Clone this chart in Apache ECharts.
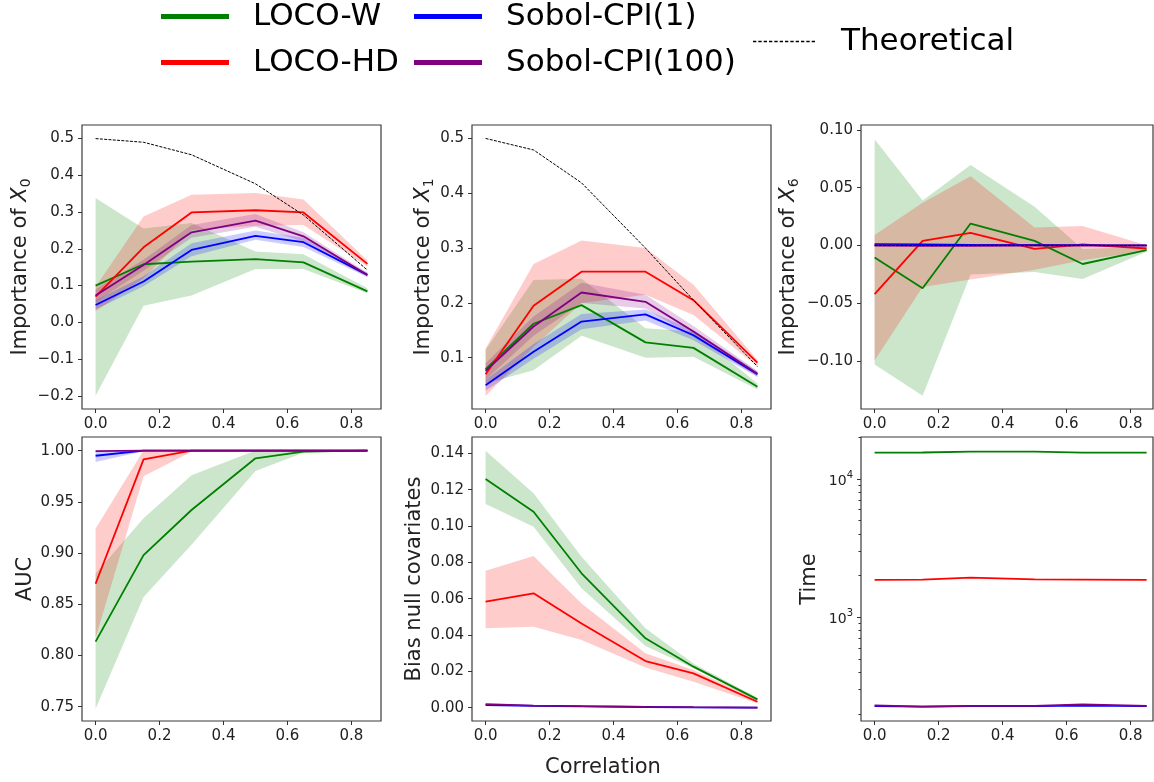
<!DOCTYPE html>
<html><head><meta charset="utf-8">
<script src="https://cdn.jsdelivr.net/npm/echarts@6.0.0/dist/echarts.min.js"></script>
<style>html,body{margin:0;padding:0;background:#fff;}#chart{width:1154px;height:782px;}</style>
</head><body><div id="chart"></div>
<script>
// ---------- data ----------
const corr = [0, 0.15, 0.3, 0.5, 0.65, 0.85];
const xTicks = [0, 0.2, 0.4, 0.6, 0.8];

// Importance of X0
const x0_theory   = [0.500, 0.490, 0.456, 0.377, 0.292, 0.142];
const x0_locoW    = [0.100, 0.158, 0.165, 0.172, 0.163, 0.084];
const x0_locoW_lo = [-0.200, 0.045, 0.073, 0.145, 0.145, 0.079];
const x0_locoW_hi = [0.338, 0.255, 0.270, 0.193, 0.185, 0.093];
const x0_locoHD    = [0.070, 0.204, 0.299, 0.305, 0.299, 0.159];
const x0_locoHD_lo = [0.030, 0.120, 0.251, 0.263, 0.265, 0.152];
const x0_locoHD_hi = [0.097, 0.288, 0.347, 0.352, 0.334, 0.168];
const x0_sobol1    = [0.047, 0.111, 0.197, 0.235, 0.218, 0.129];
const x0_sobol1_lo = [0.035, 0.098, 0.180, 0.225, 0.205, 0.123];
const x0_sobol1_hi = [0.060, 0.125, 0.215, 0.250, 0.230, 0.135];
const x0_sobol100    = [0.073, 0.156, 0.245, 0.277, 0.234, 0.129];
const x0_sobol100_lo = [0.055, 0.140, 0.230, 0.260, 0.220, 0.123];
const x0_sobol100_hi = [0.090, 0.170, 0.265, 0.295, 0.245, 0.135];
const x0_yTicks = [-0.2, -0.1, 0.0, 0.1, 0.2, 0.3, 0.4, 0.5];

// Importance of X1
const x1_theory   = [0.500, 0.479, 0.419, 0.300, 0.205, 0.084];
const x1_locoW    = [0.079, 0.162, 0.196, 0.128, 0.118, 0.047];
const x1_locoW_lo = [0.053, 0.077, 0.140, 0.100, 0.102, 0.042];
const x1_locoW_hi = [0.114, 0.242, 0.244, 0.154, 0.148, 0.053];
const x1_locoHD    = [0.070, 0.195, 0.257, 0.257, 0.205, 0.091];
const x1_locoHD_lo = [0.030, 0.120, 0.200, 0.215, 0.178, 0.084];
const x1_locoHD_hi = [0.117, 0.271, 0.314, 0.300, 0.233, 0.096];
const x1_sobol1    = [0.050, 0.111, 0.166, 0.179, 0.141, 0.070];
const x1_sobol1_lo = [0.040, 0.098, 0.152, 0.168, 0.132, 0.065];
const x1_sobol1_hi = [0.060, 0.125, 0.180, 0.188, 0.150, 0.075];
const x1_sobol100    = [0.076, 0.157, 0.219, 0.202, 0.148, 0.071];
const x1_sobol100_lo = [0.060, 0.140, 0.200, 0.190, 0.138, 0.066];
const x1_sobol100_hi = [0.090, 0.175, 0.237, 0.215, 0.158, 0.076];
const x1_yTicks = [0.1, 0.2, 0.3, 0.4, 0.5];

// Importance of X6
const x6_theory   = [0, 0, 0, 0, 0, 0];
const x6_locoW    = [-0.0104, -0.037, 0.019, 0.004, -0.016, -0.004];
const x6_locoW_lo = [-0.103, -0.130, -0.025, -0.023, -0.029, -0.0055];
const x6_locoW_hi = [0.092, 0.039, 0.0697, 0.0335, -0.003, -0.001];
const x6_locoHD    = [-0.042, 0.004, 0.011, -0.003, 0.001, -0.0026];
const x6_locoHD_lo = [-0.0995, -0.036, -0.0295, -0.021, -0.0127, -0.0046];
const x6_locoHD_hi = [0.009, 0.037, 0.060, 0.0156, 0.0168, 0.0003];
const x6_sobol1    = [0.0012, 0.0010, 0.0006, 0.0005, 0.0004, 0.0002];
const x6_sobol100  = [0.0000, -0.0003, -0.0002, 0.0000, -0.0001, 0.0000];
const x6_yTicks = [-0.10, -0.05, 0.00, 0.05, 0.10];

// AUC
const auc_locoW    = [0.8135, 0.898, 0.942, 0.9925, 0.999, 1.0];
const auc_locoW_lo = [0.748, 0.857, 0.908, 0.980, 0.998, 1.0];
const auc_locoW_hi = [0.880, 0.934, 0.976, 1.0, 1.0, 1.0];
const auc_locoHD    = [0.870, 0.9915, 1.0, 1.0, 1.0, 1.0];
const auc_locoHD_lo = [0.817, 0.975, 0.999, 1.0, 1.0, 1.0];
const auc_locoHD_hi = [0.924, 1.0, 1.0, 1.0, 1.0, 1.0];
const auc_sobol1    = [0.995, 1.0, 1.0, 1.0, 1.0, 1.0];
const auc_sobol1_lo = [0.989, 0.9995, 1.0, 1.0, 1.0, 1.0];
const auc_sobol1_hi = [0.9995, 1.0, 1.0, 1.0, 1.0, 1.0];
const auc_sobol100  = [0.9995, 1.0, 1.0, 1.0, 1.0, 1.0];
const auc_yTicks = [0.75, 0.80, 0.85, 0.90, 0.95, 1.00];

// Bias null covariates
const bias_locoW    = [0.1259, 0.1079, 0.0740, 0.0382, 0.0226, 0.0046];
const bias_locoW_lo = [0.1121, 0.0996, 0.0657, 0.0340, 0.0217, 0.0039];
const bias_locoW_hi = [0.1415, 0.1180, 0.0831, 0.0437, 0.0244, 0.0055];
const bias_locoHD    = [0.0584, 0.0630, 0.0464, 0.0257, 0.0189, 0.0033];
const bias_locoHD_lo = [0.0437, 0.0446, 0.0373, 0.0222, 0.0143, 0.0024];
const bias_locoHD_hi = [0.0754, 0.0835, 0.0574, 0.0300, 0.0208, 0.0046];
const bias_sobol1   = [0.0015, 0.0010, 0.0007, 0.0004, 0.0002, 0.0001];
const bias_sobol100 = [0.0020, 0.0012, 0.0009, 0.0005, 0.0003, 0.0001];
const bias_yTicks = [0.00, 0.02, 0.04, 0.06, 0.08, 0.10, 0.12, 0.14];

// Time
const time_locoW    = [15500, 15550, 15750, 15750, 15500, 15500];
const time_locoHD   = [1862, 1870, 1935, 1880, 1875, 1862];
const time_sobol1   = [228, 226, 228, 228, 230, 228];
const time_sobol100 = [231, 226, 229, 229, 235, 229];
const time_majorTicks = [1000, 10000];
const time_minorTicks = [200,300,400,500,600,700,800,900,2000,3000,4000,5000,6000,7000,8000,9000,20000];

const legendNames = ['LOCO-W', 'LOCO-HD', 'Sobol-CPI(1)', 'Sobol-CPI(100)', 'Theoretical'];

// ---------- styles ----------
const FONT = 'DejaVu Sans';
const COLORS = {'LOCO-W':'#008000','LOCO-HD':'#ff0000','Sobol-CPI(1)':'#0000ff','Sobol-CPI(100)':'#800080'};
const BANDS = {'LOCO-W':'rgba(0,128,0,0.2)','LOCO-HD':'rgba(255,0,0,0.2)','Sobol-CPI(1)':'rgba(0,0,255,0.2)','Sobol-CPI(100)':'rgba(128,0,128,0.2)'};
const TXT = '#222';
const minus = s => s.replace('-', '\u2212');

const gridPos = [
  {left:82,  top:125, width:299, height:284},
  {left:472, top:125, width:299, height:284},
  {left:861, top:125, width:292, height:284},
  {left:82,  top:437, width:299, height:284},
  {left:472, top:437, width:299, height:284},
  {left:861, top:437, width:292, height:284}
];

const nameRich = {
  i:{fontSize:21, fontStyle:'italic', fontFamily:FONT, color:TXT, lineHeight:26},
  s:{fontSize:14, fontFamily:FONT, color:TXT, lineHeight:14, verticalAlign:'bottom'}
};

const panels = [
  {name:'Importance of {i|X}{s|0}', rich:true, min:-0.236, max:0.537, ticks:x0_yTicks, dec:1, gap:48.7,
   lines:{'LOCO-W':x0_locoW,'LOCO-HD':x0_locoHD,'Sobol-CPI(1)':x0_sobol1,'Sobol-CPI(100)':x0_sobol100},
   bands:{'LOCO-W':[x0_locoW_lo,x0_locoW_hi],'LOCO-HD':[x0_locoHD_lo,x0_locoHD_hi],'Sobol-CPI(1)':[x0_sobol1_lo,x0_sobol1_hi],'Sobol-CPI(100)':[x0_sobol100_lo,x0_sobol100_hi]},
   theory:x0_theory},
  {name:'Importance of {i|X}{s|1}', rich:true, min:0.0065, max:0.5245, ticks:x1_yTicks, dec:1, gap:30.2,
   lines:{'LOCO-W':x1_locoW,'LOCO-HD':x1_locoHD,'Sobol-CPI(1)':x1_sobol1,'Sobol-CPI(100)':x1_sobol100},
   bands:{'LOCO-W':[x1_locoW_lo,x1_locoW_hi],'LOCO-HD':[x1_locoHD_lo,x1_locoHD_hi],'Sobol-CPI(1)':[x1_sobol1_lo,x1_sobol1_hi],'Sobol-CPI(100)':[x1_sobol100_lo,x1_sobol100_hi]},
   theory:x1_theory},
  {name:'Importance of {i|X}{s|6}', rich:true, min:-0.1415, max:0.1043, ticks:x6_yTicks, dec:2, gap:59.2,
   lines:{'LOCO-W':x6_locoW,'LOCO-HD':x6_locoHD,'Sobol-CPI(1)':x6_sobol1,'Sobol-CPI(100)':x6_sobol100},
   bands:{'LOCO-W':[x6_locoW_lo,x6_locoW_hi],'LOCO-HD':[x6_locoHD_lo,x6_locoHD_hi]},
   theory:x6_theory},
  {name:'AUC', min:0.736, max:1.0133, ticks:auc_yTicks, dec:2, gap:46.2,
   lines:{'LOCO-W':auc_locoW,'LOCO-HD':auc_locoHD,'Sobol-CPI(1)':auc_sobol1,'Sobol-CPI(100)':auc_sobol100},
   bands:{'LOCO-W':[auc_locoW_lo,auc_locoW_hi],'LOCO-HD':[auc_locoHD_lo,auc_locoHD_hi],'Sobol-CPI(1)':[auc_sobol1_lo,auc_sobol1_hi]}},
  {name:'Bias null covariates', min:-0.0073, max:0.149, ticks:bias_yTicks, dec:2, gap:47.2,
   lines:{'LOCO-W':bias_locoW,'LOCO-HD':bias_locoHD,'Sobol-CPI(1)':bias_sobol1,'Sobol-CPI(100)':bias_sobol100},
   bands:{'LOCO-W':[bias_locoW_lo,bias_locoW_hi],'LOCO-HD':[bias_locoHD_lo,bias_locoHD_hi]}},
  {name:'Time', log:true, min:178, max:20120, ticks:time_majorTicks, gap:41.2,
   lines:{'LOCO-W':time_locoW,'LOCO-HD':time_locoHD,'Sobol-CPI(1)':time_sobol1,'Sobol-CPI(100)':time_sobol100},
   bands:{}}
];

// ---------- build option ----------
const grid = gridPos.map(g => Object.assign({show:true, borderColor:'#3a3a3a', borderWidth:1.2, backgroundColor:'transparent', containLabel:false, outerBoundsMode:'none'}, g));

const xAxis = gridPos.map((g, i) => ({
  type:'value', gridIndex:i, position:'bottom', min:-0.0425, max: (i % 3 === 2) ? 0.8700 : 0.8925,
  axisLine:{show:false, onZero:false}, splitLine:{show:false},
  axisTick:{show:true, customValues:xTicks, length:4, lineStyle:{color:'#333', width:1}},
  axisLabel:{customValues:xTicks, formatter:v => v.toFixed(1), margin:8, fontSize:15, fontFamily:FONT, color:TXT}
}));

const yAxis = panels.map((p, i) => {
  const ax = {
    gridIndex:i, position:'left', min:p.min, max:p.max, name:p.name, nameLocation:'middle', nameGap:p.gap, nameRotate:90,
    nameTextStyle:{fontSize:21, fontFamily:FONT, color:TXT, lineHeight: p.rich ? 26 : 21},
    axisLine:{show:false, onZero:false}, splitLine:{show:false},
    axisTick:{show:true, customValues:p.ticks, length:4, lineStyle:{color:'#333', width:1}},
    axisLabel:{customValues:p.ticks, margin:8, fontSize:15, fontFamily:FONT, color:TXT}
  };
  if (p.rich) ax.nameTextStyle.rich = nameRich;
  if (p.log) {
    ax.type = 'log'; ax.logBase = 10;
    ax.axisLabel.formatter = v => '{b|10}{p|' + Math.round(Math.log10(v)) + '}';
    ax.axisLabel.rich = {
      b:{fontSize:14, fontFamily:FONT, color:TXT, lineHeight:18, verticalAlign:'bottom'},
      p:{fontSize:10, fontFamily:FONT, color:TXT, lineHeight:10, verticalAlign:'top'}
    };
  } else {
    ax.type = 'value';
    ax.axisLabel.formatter = v => minus(v.toFixed(p.dec));
  }
  return ax;
});
// minor ticks of the log axis
yAxis.push({
  type:'log', logBase:10, gridIndex:5, position:'left', offset:0, min:178, max:20120,
  axisLine:{show:false, onZero:false}, splitLine:{show:false}, axisLabel:{show:false},
  axisTick:{show:true, customValues:time_minorTicks, length:2.5, lineStyle:{color:'#333', width:1}}
});

const series = [];
// lines first (legend looks up first series by name)
panels.forEach((p, gi) => {
  ['LOCO-W','LOCO-HD','Sobol-CPI(1)','Sobol-CPI(100)'].forEach(n => {
    const ys = p.lines[n];
    series.push({
      type:'line', name:n, xAxisIndex:gi, yAxisIndex:gi, symbol:'none', z:3, silent:true,
      data: corr.map((x, k) => [x, ys[k]]),
      lineStyle:{color:COLORS[n], width:1.8}, itemStyle:{color:COLORS[n]}
    });
  });
  if (p.theory) {
    series.push({
      type:'line', name:'Theoretical', xAxisIndex:gi, yAxisIndex:gi, symbol:'none', z:4, silent:true,
      data: corr.map((x, k) => [x, p.theory[k]]),
      lineStyle:{color:'#000', width:1, type:[3, 1.3]}, itemStyle:{color:'#000'}
    });
  }
});
panels.forEach((p, gi) => {
  Object.keys(p.bands).forEach(n => {
    const lo = p.bands[n][0], hi = p.bands[n][1];
    const data = corr.map((x, k) => [x, lo[k], hi[k]]);
    series.push({
      type:'custom', name:n, coordinateSystem:'cartesian2d', xAxisIndex:gi, yAxisIndex:gi, z:2, silent:true,
      data: data, encode:{x:0, y:[1, 2]},
      renderItem: function (params, api) {
        if (params.dataIndex !== 0) return null;
        const upper = data.map(d => api.coord([d[0], d[2]]));
        const lower = data.map(d => api.coord([d[0], d[1]])).reverse();
        return {type:'polygon', shape:{points: upper.concat(lower)}, style:{fill: BANDS[n], stroke:'none'}};
      }
    });
  });
});

let dashPath = 'path://';
for (let k = 0; k < 12; k++) { const x0 = (k * 5.3).toFixed(2); dashPath += 'M' + x0 + ',0h3.3v1h-3.3z'; }

const legendText = {fontSize:31, fontFamily:FONT, color:'#000', lineHeight:31, padding:[0,0,0,19]};
const legend = [
  {left:161, top:1, orient:'vertical', padding:0, itemGap:15, itemWidth:68, itemHeight:5, selectedMode:false,
   textStyle:legendText,
   data:[{name:legendNames[0], icon:'rect', itemStyle:{color:COLORS['LOCO-W']}},
         {name:legendNames[1], icon:'rect', itemStyle:{color:COLORS['LOCO-HD']}}]},
  {left:414, top:1, orient:'vertical', padding:0, itemGap:15, itemWidth:68, itemHeight:5, selectedMode:false,
   textStyle:legendText,
   data:[{name:legendNames[2], icon:'rect', itemStyle:{color:COLORS['Sobol-CPI(1)']}},
         {name:legendNames[3], icon:'rect', itemStyle:{color:COLORS['Sobol-CPI(100)']}}]},
  {left:753, top:26, orient:'vertical', padding:0, itemWidth:62, itemHeight:1.3, symbolKeepAspect:false, selectedMode:false,
   textStyle:Object.assign({}, legendText, {padding:[0,0,0,21]}),
   data:[{name:legendNames[4], icon:dashPath, itemStyle:{color:'#000'}}]}
];

const option = {
  animation:false,
  backgroundColor:'#fff',
  textStyle:{fontFamily:FONT},
  legend, grid, xAxis, yAxis, series,
  graphic:[{type:'text', x:603, y:768, silent:true,
    style:{text:'Correlation', fontSize:21, fontFamily:FONT, fill:TXT, align:'center', verticalAlign:'middle'}}]
};

const chart = echarts.init(document.getElementById('chart'), null, {renderer:'canvas'});
chart.setOption(option);
</script>
</body></html>
